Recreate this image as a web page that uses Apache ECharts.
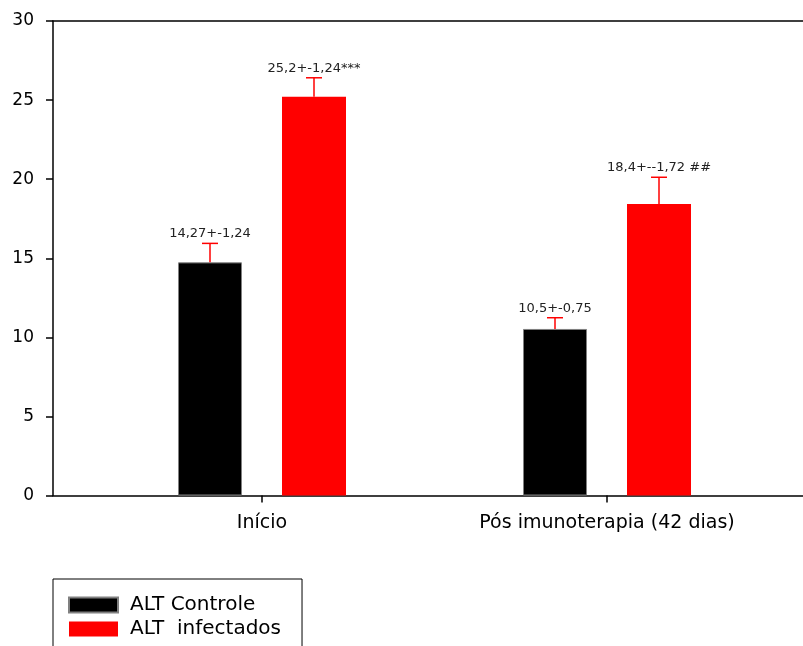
<!DOCTYPE html>
<html>
<head>
<meta charset="utf-8">
<script src="https://cdn.jsdelivr.net/npm/echarts@6/dist/echarts.min.js"></script>
<style>html,body{margin:0;padding:0;background:#fff;}#c{width:803px;height:646px;}</style>
</head>
<body>
<div id="c"></div>
<script>
const categories = ['Início', 'Pós imunoterapia (42 dias)'];
const seriesNames = ['ALT Controle', 'ALT  infectados'];
const controlValues = [14.74, 10.53];
const controlErrors = [1.2, 0.71];
const infectedValues = [25.21, 18.43];
const infectedErrors = [1.2, 1.69];
const controlLabels = ['14,27+-1,24', '10,5+-0,75'];
const infectedLabels = ['25,2+-1,24***', '18,4+--1,72 ##'];
const yTicks = [0, 5, 10, 15, 20, 25, 30];

const FONT = 'DejaVu Sans';
const BAR_W = 64, BAR_GAP = 40;
const OFF = (BAR_W + BAR_GAP) / 2;

function errItem(offset, errors, labels) {
  return function (params, api) {
    const ci = api.value(0);
    const v = api.value(1);
    const e = errors[params.dataIndex];
    const base = api.coord([ci, v]);
    const top = api.coord([ci, v + e]);
    const x = base[0] + offset;
    return {
      type: 'group',
      children: [
        { type: 'line', shape: { x1: x, y1: base[1], x2: x, y2: top[1] }, style: { stroke: '#ff0000', lineWidth: 1.5 } },
        { type: 'line', shape: { x1: x - 8, y1: top[1], x2: x + 8, y2: top[1] }, style: { stroke: '#ff0000', lineWidth: 1.5 } },
        { type: 'text', x: x, y: top[1] - 3, style: { text: labels[params.dataIndex], font: '13px "' + FONT + '"', fill: '#222', align: 'center', verticalAlign: 'bottom' } }
      ]
    };
  };
}

const chart = echarts.init(document.getElementById('c'), null, { renderer: 'canvas' });
chart.setOption({
  animation: false,
  backgroundColor: '#ffffff',
  grid: [
    { left: 53, right: 0, top: 21, bottom: 150.5 },
    { left: 89.5, right: 23.5, top: 21, bottom: 150.5 }
  ],
  legend: {
    orient: 'vertical',
    left: 53, top: 579, height: 200,
    padding: [16, 21, 40, 15],
    borderColor: '#000', borderWidth: 1,
    itemWidth: 49, itemHeight: 15, itemGap: 4,
    icon: 'rect',
    textStyle: { fontFamily: FONT, fontSize: 20, color: '#000', lineHeight: 15, padding: [0, 0, 0, 7] },
    data: seriesNames
  },
  xAxis: [
    { gridIndex: 0, type: 'value', min: 0, max: 1, position: 'bottom',
      axisLine: { show: true, lineStyle: { color: '#000', width: 1.5 } },
      axisTick: { show: false }, axisLabel: { show: false }, splitLine: { show: false } },
    { gridIndex: 0, type: 'value', min: 0, max: 1, position: 'top',
      axisLine: { show: true, lineStyle: { color: '#000', width: 1.5 } },
      axisTick: { show: false }, axisLabel: { show: false }, splitLine: { show: false } },
    { gridIndex: 1, type: 'category', data: categories, position: 'bottom',
      axisLine: { show: false },
      axisTick: { show: true, alignWithLabel: true, length: 7, lineStyle: { color: '#000', width: 1.5 } },
      axisLabel: { fontFamily: FONT, fontSize: 19, color: '#000', margin: 18, lineHeight: 19 } }
  ],
  yAxis: [
    { gridIndex: 0, type: 'value', min: 0, max: 30, interval: 5,
      axisLine: { show: true, lineStyle: { color: '#000', width: 1.5 } },
      axisTick: { show: true, length: 7, lineStyle: { color: '#000', width: 1.5 } },
      axisLabel: { fontFamily: FONT, fontSize: 17, color: '#000', margin: 19,
        formatter: function (v) { return yTicks.indexOf(v) >= 0 ? String(v) : ''; } },
      splitLine: { show: false } },
    { gridIndex: 1, type: 'value', min: 0, max: 30, interval: 5, show: false, splitLine: { show: false } }
  ],
  series: [
    { name: seriesNames[0], type: 'bar', xAxisIndex: 2, yAxisIndex: 1, data: controlValues,
      barWidth: BAR_W, barGap: (BAR_GAP / BAR_W * 100) + '%',
      itemStyle: { color: '#000000', borderColor: '#808080', borderWidth: 1 } },
    { name: seriesNames[1], type: 'bar', xAxisIndex: 2, yAxisIndex: 1, data: infectedValues,
      barWidth: BAR_W,
      itemStyle: { color: '#ff0000' } },
    { type: 'custom', xAxisIndex: 2, yAxisIndex: 1, z: 5,
      data: controlValues.map((v, i) => [i, v]),
      renderItem: errItem(-OFF, controlErrors, controlLabels) },
    { type: 'custom', xAxisIndex: 2, yAxisIndex: 1, z: 5,
      data: infectedValues.map((v, i) => [i, v]),
      renderItem: errItem(OFF, infectedErrors, infectedLabels) }
  ]
});
</script>
</body>
</html>
